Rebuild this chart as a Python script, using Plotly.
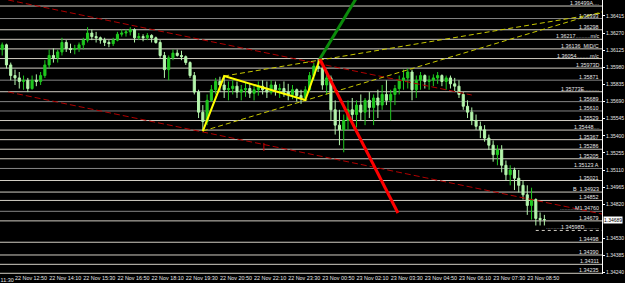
import plotly.graph_objects as go
import pandas as pd

# ---------------- data ----------------
bar_times = pd.date_range("2012-11-22 12:20", periods=128, freq="10min")

opens = [1.3613,1.3617,1.3600,1.3591,1.3589,1.3586,1.3587,1.3580,1.3587,1.3586,
         1.3591,1.3600,1.3608,1.3606,1.3611,1.3619,1.3614,1.3613,1.3614,1.3617,
         1.3621,1.3627,1.3624,1.3623,1.3621,1.3619,1.3618,1.3621,1.3626,1.3627,
         1.3628,1.3630,1.3623,1.3624,1.3623,1.3625,1.3623,1.3619,1.3608,1.3596,
         1.3606,1.3610,1.3608,1.3607,1.3602,1.3591,1.3577,1.3560,1.3552,1.3570,
         1.3579,1.3586,1.3583,1.3579,1.3580,1.3582,1.3577,1.3579,1.3580,1.3576,
         1.3579,1.3582,1.3579,1.3577,1.3583,1.3579,1.3580,1.3577,1.3575,1.3579,
         1.3574,1.3572,1.3579,1.3591,1.3599,1.3597,1.3583,1.3589,1.3562,1.3549,
         1.3545,1.3553,1.3562,1.3558,1.3566,1.3560,1.3570,1.3564,1.3572,1.3566,
         1.3575,1.3570,1.3575,1.3580,1.3587,1.3589,1.3594,1.3579,1.3587,1.3591,
         1.3586,1.3587,1.3589,1.3591,1.3586,1.3589,1.3584,1.3582,1.3575,1.3565,
         1.3560,1.3553,1.3548,1.3545,1.3538,1.3532,1.3524,1.3528,1.3515,1.3507,
         1.3511,1.3504,1.3498,1.3490,1.3481,1.3486,1.3470,1.3469]
highs = [1.3619,1.3618,1.3602,1.3596,1.3594,1.3591,1.3589,1.3591,1.3592,1.3594,
         1.3604,1.3613,1.3614,1.3613,1.3623,1.3621,1.3618,1.3617,1.3619,1.3623,
         1.3632,1.3630,1.3628,1.3624,1.3623,1.3621,1.3623,1.3628,1.3630,1.3630,
         1.3632,1.3631,1.3627,1.3626,1.3627,1.3626,1.3624,1.3621,1.3611,1.3608,
         1.3613,1.3613,1.3612,1.3608,1.3603,1.3594,1.3579,1.3566,1.3575,1.3583,
         1.3589,1.3590,1.3591,1.3586,1.3587,1.3586,1.3583,1.3585,1.3584,1.3583,
         1.3586,1.3587,1.3586,1.3587,1.3586,1.3584,1.3586,1.3584,1.3583,1.3580,
         1.3579,1.3582,1.3594,1.3602,1.3605,1.3600,1.3594,1.3591,1.3570,1.3562,
         1.3558,1.3570,1.3572,1.3570,1.3575,1.3572,1.3577,1.3575,1.3579,1.3583,
         1.3587,1.3579,1.3583,1.3591,1.3596,1.3597,1.3596,1.3591,1.3594,1.3592,
         1.3591,1.3592,1.3594,1.3592,1.3591,1.3591,1.3589,1.3587,1.3577,1.3570,
         1.3564,1.3558,1.3552,1.3549,1.3541,1.3536,1.3532,1.3532,1.3519,1.3515,
         1.3513,1.3511,1.3502,1.3498,1.3496,1.3487,1.3475,1.3473]
lows = [1.3608,1.3597,1.3587,1.3583,1.3580,1.3579,1.3577,1.3579,1.3582,1.3583,
        1.3589,1.3597,1.3602,1.3602,1.3608,1.3611,1.3610,1.3609,1.3611,1.3613,
        1.3619,1.3621,1.3619,1.3618,1.3616,1.3615,1.3616,1.3620,1.3624,1.3624,
        1.3625,1.3619,1.3621,1.3620,1.3621,1.3619,1.3618,1.3606,1.3589,1.3587,
        1.3604,1.3607,1.3604,1.3600,1.3589,1.3575,1.3555,1.3544,1.3549,1.3569,
        1.3575,1.3577,1.3572,1.3570,1.3575,1.3572,1.3570,1.3573,1.3572,1.3570,
        1.3574,1.3575,1.3572,1.3575,1.3574,1.3572,1.3573,1.3570,1.3571,1.3569,
        1.3567,1.3570,1.3577,1.3587,1.3594,1.3579,1.3575,1.3553,1.3541,1.3532,
        1.3526,1.3545,1.3552,1.3547,1.3553,1.3549,1.3555,1.3549,1.3555,1.3562,
        1.3566,1.3553,1.3566,1.3575,1.3579,1.3580,1.3570,1.3572,1.3579,1.3580,
        1.3579,1.3582,1.3584,1.3582,1.3579,1.3580,1.3577,1.3572,1.3562,1.3555,
        1.3549,1.3545,1.3538,1.3535,1.3528,1.3518,1.3515,1.3509,1.3502,1.3498,
        1.3494,1.3492,1.3486,1.3473,1.3469,1.3464,1.3464,1.3464]
closes = [1.3617,1.3600,1.3591,1.3589,1.3586,1.3587,1.3580,1.3587,1.3586,1.3591,
          1.3600,1.3608,1.3606,1.3611,1.3619,1.3614,1.3613,1.3614,1.3617,1.3621,
          1.3627,1.3624,1.3623,1.3621,1.3619,1.3618,1.3621,1.3626,1.3627,1.3628,
          1.3630,1.3623,1.3624,1.3623,1.3625,1.3623,1.3619,1.3608,1.3596,1.3606,
          1.3610,1.3608,1.3607,1.3602,1.3591,1.3577,1.3560,1.3552,1.3570,1.3579,
          1.3586,1.3583,1.3579,1.3580,1.3582,1.3577,1.3579,1.3580,1.3576,1.3579,
          1.3582,1.3579,1.3577,1.3583,1.3579,1.3580,1.3577,1.3575,1.3579,1.3574,
          1.3572,1.3579,1.3591,1.3599,1.3597,1.3583,1.3589,1.3562,1.3549,1.3545,
          1.3553,1.3562,1.3558,1.3566,1.3560,1.3570,1.3564,1.3572,1.3566,1.3575,
          1.3570,1.3575,1.3580,1.3587,1.3589,1.3594,1.3579,1.3587,1.3591,1.3586,
          1.3587,1.3589,1.3591,1.3586,1.3589,1.3584,1.3582,1.3575,1.3565,1.3560,
          1.3553,1.3548,1.3545,1.3538,1.3532,1.3524,1.3528,1.3515,1.3507,1.3511,
          1.3504,1.3498,1.3490,1.3481,1.3486,1.3470,1.3469,1.34689]

# horizontal levels (price, label, style)
level_prices = [1.36499, 1.36393, 1.36298, 1.36217, 1.36136, 1.36054, 1.35973,
                1.35871, 1.35773, 1.35689, 1.35610, 1.35529, 1.35448, 1.35367,
                1.35286, 1.35205, 1.35123, 1.35021, 1.34923, 1.34852, 1.34760,
                1.34679, 1.34598, 1.34498, 1.34390, 1.34311, 1.34235]
level_labels = ["1.36499A....", "1.36393", "1.36298", "1.36217..........m/c",
                "1.36136  MID/C", "1.36054.........m/c", "1.35973D", "1.35871",
                "1.35773E..........", "1.35689", "1.35610", "1.35529", "1.35448....",
                "1.35367", "1.35286", "1.35205", "1.35123 A", "1.35021",
                "B  1.34923", "1.34852", "..........M1.34760", "1.34679",
                "..........1.34598D..........", "1.34498", "1.34390", "1.34311", "1.34235"]
level_kind = ["light", "gray", "light", "light", "light", "light", "light",
              "gray", "light", "gray", "gray", "light", "light", "light",
              "light", "light", "gray", "light", "light", "light", "gray",
              "light", "dots", "light", "light", "light", "light"]

# price axis
axis_ticks = [1.36415, 1.36270, 1.36125, 1.35980, 1.35835, 1.35690, 1.35545, 1.35400,
              1.35255, 1.35110, 1.34965, 1.34820, 1.34530, 1.34385, 1.34240]
current_price = 1.34689

# time axis labels
time_ticks = ["2012-11-22 12:50", "2012-11-22 14:10", "2012-11-22 15:30", "2012-11-22 16:50",
              "2012-11-22 18:10", "2012-11-22 19:30", "2012-11-22 20:50", "2012-11-22 22:10",
              "2012-11-22 23:30", "2012-11-23 00:50", "2012-11-23 02:10", "2012-11-23 03:30",
              "2012-11-23 04:50", "2012-11-23 06:10", "2012-11-23 07:30", "2012-11-23 08:50"]
time_labels = ["22 Nov 12:50", "22 Nov 14:10", "22 Nov 15:30", "22 Nov 16:50", "22 Nov 18:10",
               "22 Nov 19:30", "22 Nov 20:50", "22 Nov 22:10", "22 Nov 23:30", "23 Nov 00:50",
               "23 Nov 02:10", "23 Nov 03:30", "23 Nov 04:50", "23 Nov 06:10", "23 Nov 07:30",
               "23 Nov 08:50"]
first_label_time = "2012-11-22 11:30"
first_label = "22 Nov 11:30"

x_range = ["2012-11-22 12:14:52", "2012-11-23 11:45:00"]
y_range = [1.34229, 1.36550]

# drawn objects
red_upper_t = ["2012-11-22 12:34", "2012-11-23 06:40"]
red_upper_p = [1.36550, 1.35745]
red_lower_t = ["2012-11-22 12:34", "2012-11-23 11:45"]
red_lower_p = [1.35771, 1.34737]
zig_t = ["2012-11-22 20:10", "2012-11-22 21:00", "2012-11-23 00:10", "2012-11-23 00:44"]
zig_p = [1.35440, 1.35906, 1.35703, 1.36050]
ydash1_t = ["2012-11-22 21:00", "2012-11-23 11:45"]
ydash1_p = [1.35906, 1.36440]
ydash2_t = ["2012-11-22 20:10", "2012-11-23 11:45"]
ydash2_p = [1.35440, 1.36450]
green_t = ["2012-11-23 00:44", "2012-11-23 02:21"]
green_p = [1.36050, 1.36635]
redthick_t = ["2012-11-23 00:44", "2012-11-23 03:47"]
redthick_p = [1.36050, 1.34746]
redtick_t = ["2012-11-22 22:33", "2012-11-22 22:33"]
redtick_p = [1.35339, 1.35271]

FONT = "Liberation Sans"
LIGHT = "#d2cec4"
GRAY = "#858585"
TXT = "#e6e6e6"
FS = 5.4
AXFS = 5.0

fig = go.Figure()

# level shapes
shapes = []
for p, k in zip(level_prices, level_kind):
    if k == "dots":
        shapes.append(dict(type="line", xref="paper", yref="y", x0=0.89, x1=1.0, y0=p, y1=p,
                           line=dict(color=LIGHT, width=1, dash="dot"), layer="below"))
    else:
        shapes.append(dict(type="line", xref="paper", yref="y", x0=0, x1=1.0, y0=p, y1=p,
                           line=dict(color=LIGHT if k == "light" else GRAY, width=1),
                           layer="below"))

fig.add_trace(go.Candlestick(
    x=bar_times, open=opens, high=highs, low=lows, close=closes,
    increasing=dict(line=dict(color="#1fc81f", width=1), fillcolor="#1fc81f"),
    decreasing=dict(line=dict(color="#b4f5ac", width=1), fillcolor="#b4f5ac"),
    whiskerwidth=0, showlegend=False, hoverinfo="skip"))

def seg(t, p, color, width, dash="solid"):
    fig.add_trace(go.Scatter(x=t, y=p, mode="lines", showlegend=False, hoverinfo="skip",
                             line=dict(color=color, width=width, dash=dash)))

seg(red_upper_t, red_upper_p, "#b00000", 1, "6px,3px")
seg(red_lower_t, red_lower_p, "#b00000", 1, "6px,3px")
seg(ydash1_t, ydash1_p, "#c8c800", 1, "5px,3px")
seg(ydash2_t, ydash2_p, "#c8c800", 1, "5px,3px")
seg(zig_t, zig_p, "#ffff00", 2)
seg(green_t, green_p, "#0a8a0a", 3)
seg(redthick_t, redthick_p, "#ff0000", 3)
seg(redtick_t, redtick_p, "#d00000", 1)

annotations = []
for p, lab in zip(level_prices, level_labels):
    annotations.append(dict(xref="paper", yref="y", x=0.997, y=p, xanchor="right", yanchor="bottom",
                            text=lab, showarrow=False, borderpad=0, yshift=-1,
                            font=dict(family=FONT, size=FS, color=TXT)))
annotations.append(dict(xref="paper", yref="y", x=1.0, y=current_price, xanchor="left",
                        yanchor="middle", text=f"{current_price:.5f}", showarrow=False,
                        bgcolor="#ffffff", borderpad=0, xshift=1,
                        font=dict(family=FONT, size=AXFS, color="#000000")))
# partially visible first time label
t0 = pd.Timestamp(x_range[0]); t1 = pd.Timestamp(x_range[1]); tf = pd.Timestamp(first_label_time)
frac = (tf - t0) / (t1 - t0)
annotations.append(dict(xref="paper", yref="paper", x=frac, y=0, xanchor="left", yanchor="top",
                        text=first_label, showarrow=False, borderpad=0, yshift=-2,
                        font=dict(family=FONT, size=FS, color=TXT)))

fig.update_layout(
    width=625, height=283,
    margin=dict(l=0, r=23, t=0, b=9, autoexpand=False),
    paper_bgcolor="#000000", plot_bgcolor="#000000",
    shapes=shapes, annotations=annotations,
    showlegend=False,
    xaxis=dict(type="date", range=x_range, showgrid=False, zeroline=False,
               rangeslider=dict(visible=False), tickmode="array",
               tickvals=time_ticks, ticktext=time_labels, ticks="", tickangle=0,
               ticklabelposition="outside right", automargin=False,
               tickfont=dict(family=FONT, size=FS, color=TXT),
               showline=False),
    yaxis=dict(side="right", range=y_range, showgrid=False, zeroline=False,
               tickmode="array", tickvals=axis_ticks, automargin=False,
               ticktext=[f"{v:.5f}" for v in axis_ticks],
               ticks="outside", ticklen=2, tickcolor="#ffffff", ticklabelstandoff=0,
               tickfont=dict(family=FONT, size=AXFS, color=TXT),
               showline=True, linecolor="#ffffff", linewidth=1),
)

fig.write_html("out.html")
